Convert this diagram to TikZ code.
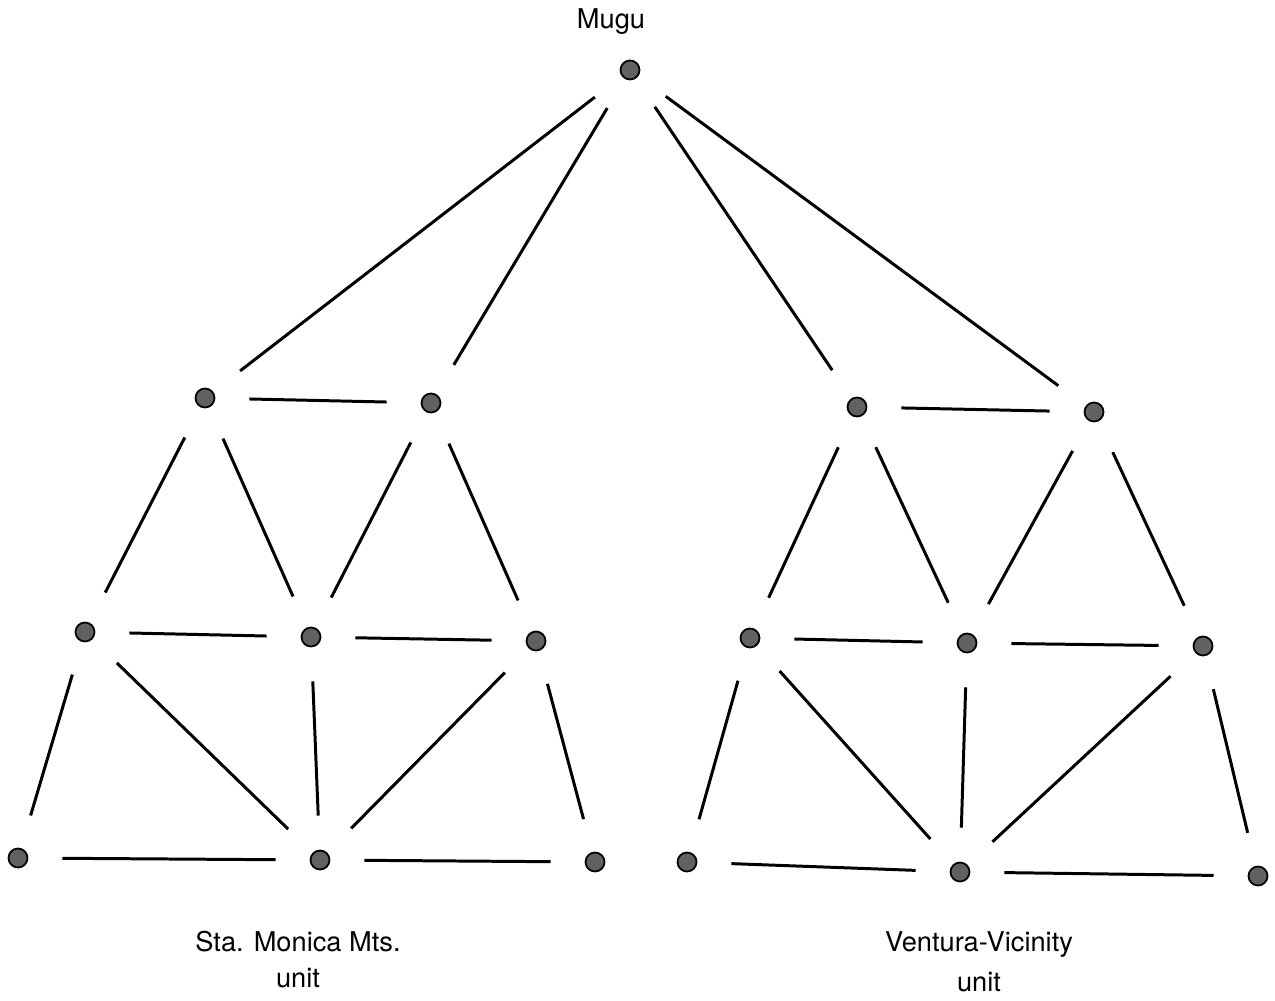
\documentclass[tikz,border=0pt]{standalone}
\usepackage{fontspec}
\setmainfont{TeX Gyre Heros}
\usepackage{tikz}
\usetikzlibrary{positioning}

\begin{document}
\begin{tikzpicture}[
  station/.style={circle,draw=black,line width=1pt,fill=black!62,
    inner sep=0pt,minimum size=.38cm},
  link/.style={line width=1.7pt,shorten <=.68cm,shorten >=.68cm},
  every node/.style={font=\fontsize{15.5}{20.5}\selectfont}
]
\useasboundingbox (0,0) rectangle (25.5,20);

% Mugu
\node[station] (mugu) at (12.6,18.6) {};
\node (mugulbl) at (12.22,19.56) {Mugu};

% Sta. Monica Mts. unit
\node[station] (l1) at (4.1,12.04) {};
\node[station] (l2) at (8.62,11.94) {};
\node[station] (la) at (1.7,7.36) {};
\node[station] (lb) at (6.22,7.26) {};
\node[station] (lc) at (10.72,7.18) {};
\node[station] (lx) at (0.36,2.84) {};
\node[station] (ly) at (6.4,2.8) {};
\node[station] (lz) at (11.9,2.76) {};
\node[align=center] (leftlbl) at (5.96,.8) {Sta. Monica Mts.\\unit};

% Ventura-Vicinity unit
\node[station] (r1) at (17.14,11.86) {};
\node[station] (r2) at (21.88,11.76) {};
\node[station] (ra) at (15.0,7.24) {};
\node[station] (rb) at (19.34,7.14) {};
\node[station] (rc) at (24.06,7.08) {};
\node[station] (rx) at (13.74,2.76) {};
\node[station] (ry) at (19.2,2.56) {};
\node[station] (rz) at (25.16,2.48) {};
\node[align=center] (rightlbl) at (19.58,.76) {Ventura-Vicinity\\[2pt]unit};

% links down from Mugu
\draw[link] (mugu) -- (l1);
\draw[link] (mugu) -- (l2);
\draw[link] (mugu) -- (r1);
\draw[link] (mugu) -- (r2);

% left net
\draw[link] (l1) -- (l2);
\draw[link] (l1) -- (la);
\draw[link] (l1) -- (lb);
\draw[link] (l2) -- (lb);
\draw[link] (l2) -- (lc);
\draw[link] (la) -- (lb);
\draw[link] (lb) -- (lc);
\draw[link] (la) -- (lx);
\draw[link] (la) -- (ly);
\draw[link] (lb) -- (ly);
\draw[link] (lc) -- (ly);
\draw[link] (lc) -- (lz);
\draw[link] (lx) -- (ly);
\draw[link] (ly) -- (lz);

% right net
\draw[link] (r1) -- (r2);
\draw[link] (r1) -- (ra);
\draw[link] (r1) -- (rb);
\draw[link] (r2) -- (rb);
\draw[link] (r2) -- (rc);
\draw[link] (ra) -- (rb);
\draw[link] (rb) -- (rc);
\draw[link] (ra) -- (rx);
\draw[link] (ra) -- (ry);
\draw[link] (rb) -- (ry);
\draw[link] (rc) -- (ry);
\draw[link] (rc) -- (rz);
\draw[link] (rx) -- (ry);
\draw[link] (ry) -- (rz);

\end{tikzpicture}
\end{document}
